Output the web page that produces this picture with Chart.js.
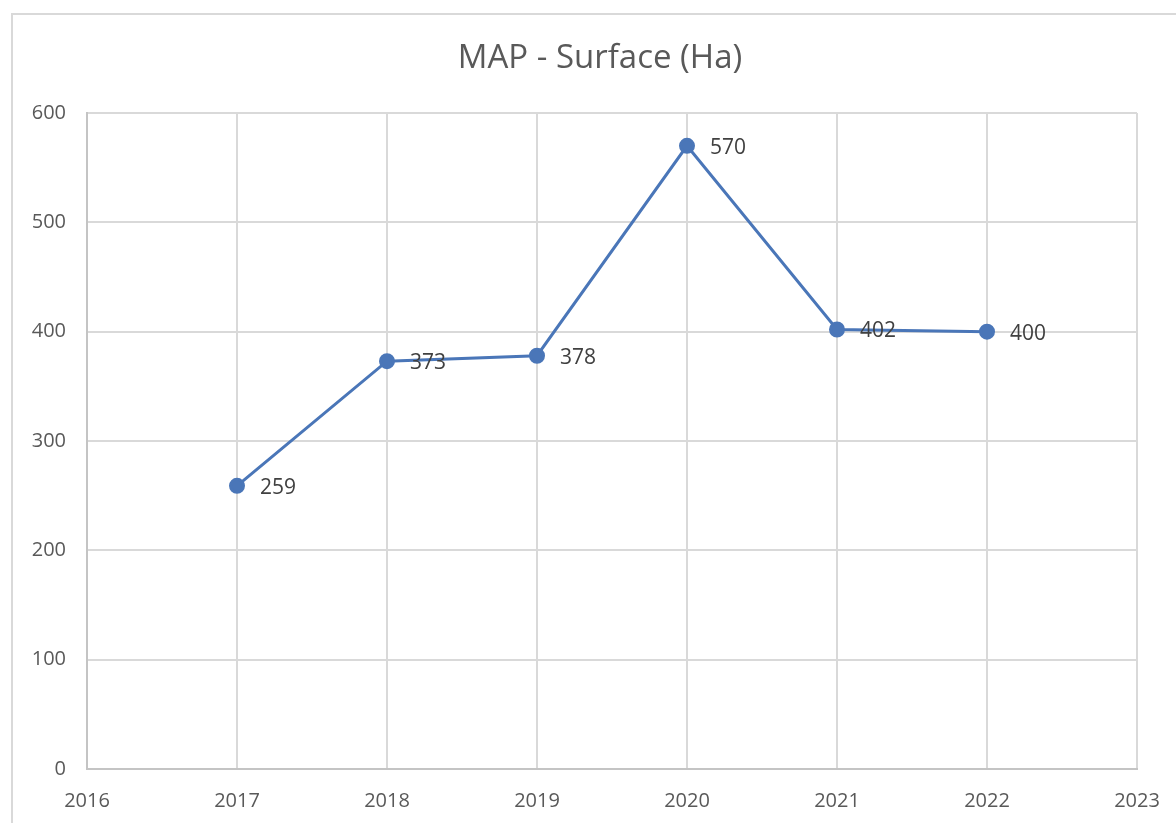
<!DOCTYPE html>
<html>
<head>
<meta charset="utf-8">
<title>MAP - Surface (Ha)</title>
<script src="https://cdn.jsdelivr.net/npm/chart.js@4/dist/chart.umd.min.js"></script>
<style>
  html, body { margin: 0; padding: 0; background: #fff; overflow: hidden; }
  .frame {
    position: absolute; left: 11px; top: 13px;
    width: 1200px; height: 900px;
    border: 2px solid #d9d9d9; box-sizing: border-box;
  }
  #surfaceChart { position: absolute; left: 0; top: 0; }
</style>
</head>
<body>
<div class="frame"></div>
<canvas id="surfaceChart" width="1176" height="823"></canvas>
<script>
// yearly surface in hectares
const years = [2017, 2018, 2019, 2020, 2021, 2022];
const surface = [259, 373, 378, 570, 402, 400];
const xRange = [2016, 2023];
const yTicks = [0, 100, 200, 300, 400, 500, 600];
const chartTitle = 'MAP - Surface (Ha)';

const FONT = "'Open Sans', 'Liberation Sans', sans-serif";

// title sits a little left of the plot centre, like the workbook chart
const titleText = {
  id: 'titleText',
  afterDraw(chart) {
    const ctx = chart.ctx;
    const area = chart.chartArea;
    ctx.save();
    ctx.font = `33px ${FONT}`;
    ctx.fillStyle = '#595959';
    ctx.textAlign = 'center';
    ctx.textBaseline = 'middle';
    ctx.fillText(chartTitle, (area.left + area.right) / 2 - 12, 59);
    ctx.restore();
  }
};

// value labels drawn just right of each point
const pointLabels = {
  id: 'pointLabels',
  afterDatasetsDraw(chart) {
    const ctx = chart.ctx;
    const meta = chart.getDatasetMeta(0);
    ctx.save();
    ctx.font = `21px ${FONT}`;
    ctx.fillStyle = '#404040';
    ctx.textAlign = 'left';
    ctx.textBaseline = 'middle';
    meta.data.forEach((pt, i) => {
      ctx.fillText(String(surface[i]), pt.x + 23, pt.y + 2);
    });
    ctx.restore();
  }
};

new Chart(document.getElementById('surfaceChart'), {
  type: 'line',
  data: {
    datasets: [{
      label: 'Surface (Ha)',
      data: years.map((y, i) => ({ x: y, y: surface[i] })),
      borderColor: '#4a76b8',
      backgroundColor: '#4a76b8',
      borderWidth: 3,
      pointRadius: 6.5,
      pointHoverRadius: 6.5,
      tension: 0
    }]
  },
  options: {
    responsive: false,
    animation: false,
    layout: { padding: { left: 0, right: 39, top: 113, bottom: 0 } },
    plugins: {
      legend: { display: false },
      tooltip: { enabled: false },
      title: { display: false }
    },
    scales: {
      x: {
        type: 'linear',
        min: xRange[0],
        max: xRange[1],
        afterFit: s => {
          s.height = 54;
          // the end labels hang past the plot; let the layout padding hold them
          s.paddingLeft = 0;
          s.paddingRight = 0;
        },
        afterBuildTicks: s => {
          s.ticks = [];
          for (let v = xRange[0]; v <= xRange[1]; v++) s.ticks.push({ value: v });
        },
        ticks: {
          color: '#595959',
          font: { family: FONT, size: 20 },
          padding: 20,
          maxRotation: 0,
          autoSkip: false,
          callback: v => String(v)
        },
        grid: { color: '#d9d9d9', lineWidth: 2, drawTicks: false },
        border: { color: '#c4c4c4', width: 2 }
      },
      y: {
        min: 0,
        max: 600,
        afterFit: s => { s.width = 87; },
        afterBuildTicks: s => { s.ticks = yTicks.map(v => ({ value: v })); },
        ticks: {
          color: '#595959',
          font: { family: FONT, size: 20 },
          padding: 21
        },
        grid: { color: '#d9d9d9', lineWidth: 2, drawTicks: false },
        border: { color: '#c4c4c4', width: 2 }
      }
    }
  },
  plugins: [pointLabels, titleText]
});
</script>
</body>
</html>
